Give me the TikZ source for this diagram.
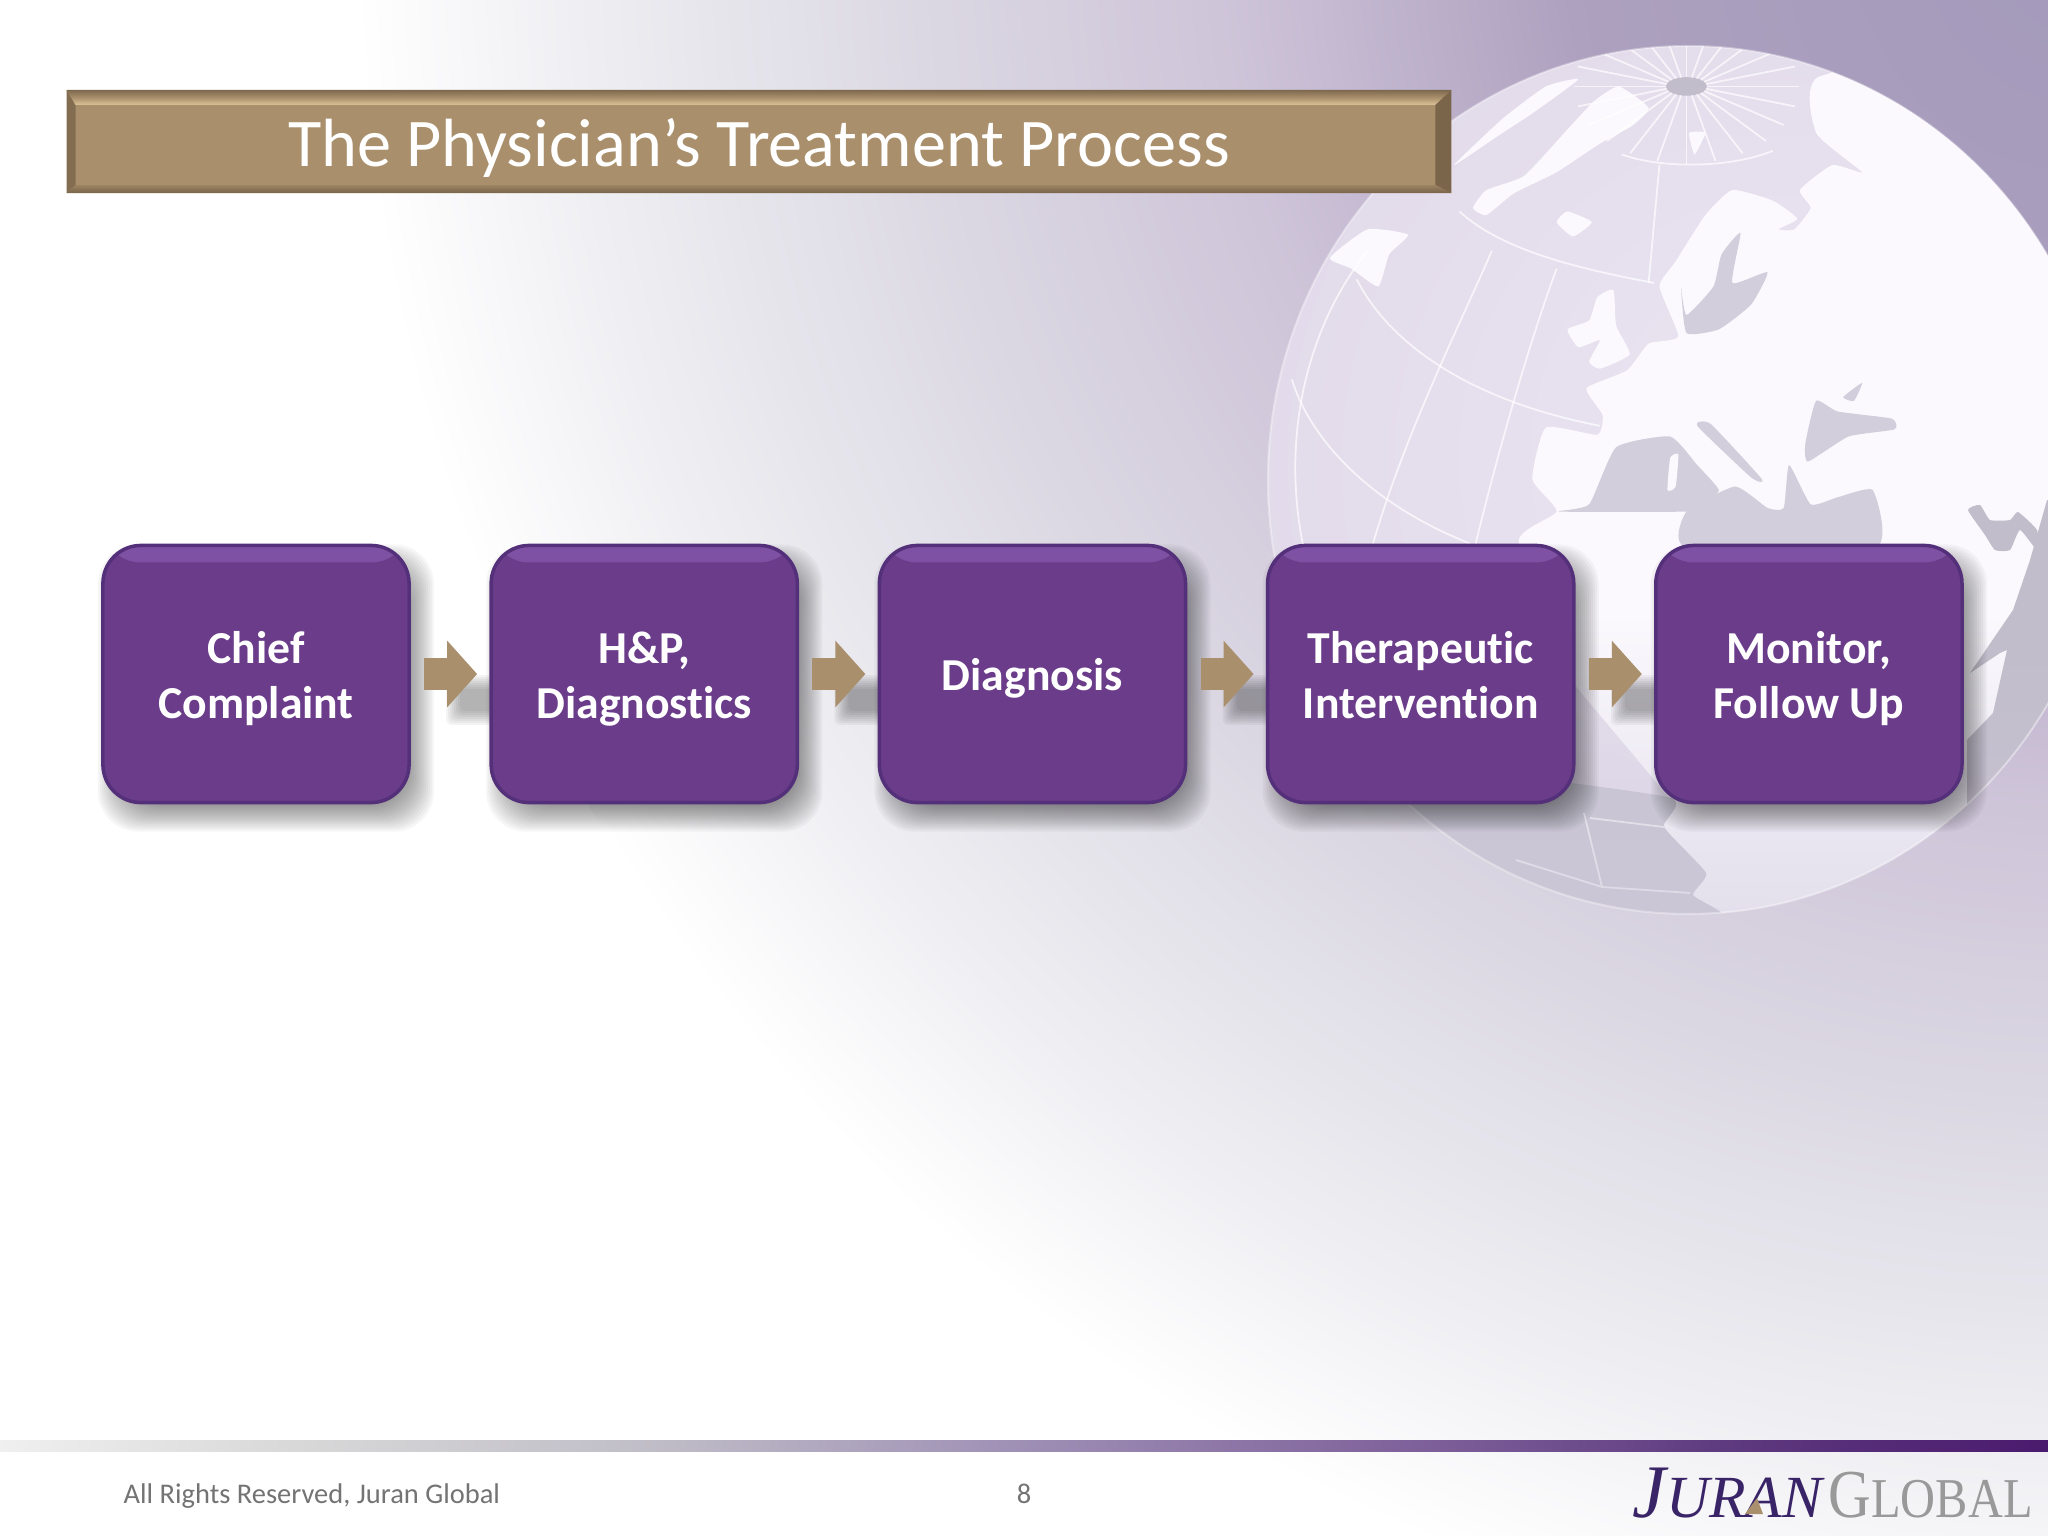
\documentclass[tikz,border=0pt]{standalone}
\usepackage{fontspec}
\setmainfont{Carlito}[Ligatures=NoCommon]
\newfontfamily\logofont{Liberation Serif}
\usetikzlibrary{positioning,arrows.meta,backgrounds,fadings}

\definecolor{boxfill}{HTML}{6A3C8A}
\definecolor{boxlight}{HTML}{8E60B6}
\definecolor{boxline}{HTML}{55307A}
\definecolor{tan}{HTML}{A98F6C}
\definecolor{tanlight}{HTML}{DCC498}
\definecolor{tandark}{HTML}{7A654A}
\definecolor{seagrey}{HTML}{D2CEDC}
\definecolor{landwhite}{HTML}{FBF9FE}
\definecolor{logopurple}{HTML}{3A2468}
\definecolor{globedim}{HTML}{CFC9DC}

\newcommand{\dropline}[1]{\raisebox{-2pt}[\height][\depth]{#1}}

\pgfdeclareradialshading{pageshade}{\pgfpoint{0bp}{0bp}}{%
	rgb(0bp)=(0.64,0.60,0.73);
	rgb(7.5bp)=(0.68,0.63,0.75);
	rgb(12.5bp)=(0.81,0.77,0.85);
	rgb(16.5bp)=(0.855,0.84,0.885);
	rgb(21bp)=(0.92,0.92,0.94);
	rgb(25bp)=(1,1,1);
	rgb(50bp)=(1,1,1)}
\pgfdeclareradialshading{globeshade}{\pgfpoint{8bp}{2bp}}{%
	rgb(0bp)=(0.92,0.90,0.95);
	rgb(28bp)=(0.89,0.86,0.92);
	rgb(36bp)=(0.84,0.82,0.89);
	rgb(50bp)=(0.84,0.82,0.89)}
\pgfdeclarehorizontalshading{barshade}{100bp}{%
	rgb(0bp)=(0.94,0.94,0.94);
	rgb(25bp)=(0.94,0.94,0.94);
	rgb(32bp)=(0.85,0.85,0.85);
	rgb(41bp)=(0.75,0.74,0.78);
	rgb(50bp)=(0.62,0.56,0.71);
	rgb(60bp)=(0.49,0.37,0.60);
	rgb(67bp)=(0.37,0.23,0.50);
	rgb(75bp)=(0.29,0.10,0.43);
	rgb(100bp)=(0.29,0.10,0.43)}
\tikzfading[name=globelow, top color=transparent!100, bottom color=transparent!20]

\begin{document}
\begin{tikzpicture}[
		x=0.01cm,y=-0.01cm,
		node distance=0.82cm,
		stepbox/.style={draw=boxline,line width=1pt,fill=boxfill,text=white,
			rounded corners=0.38cm,minimum width=3.06cm,minimum height=2.57cm,
			align=center,outer sep=0pt,
			execute at begin node={\rule{0pt}{13.1pt}},
			execute at end node={\rule[-3.5pt]{0pt}{3.5pt}},
			font=\bfseries\fontsize{13}{15.6}\selectfont,
			path picture={\shade[top color=boxlight!60!boxfill,middle color=boxlight,bottom color=boxfill]
				(path picture bounding box.north west) rectangle
				([yshift=-0.17cm]path picture bounding box.north east);}},
		flowarrow/.style={draw=tan,line width=0.32cm,shorten <=0.15cm,shorten >=0.14cm,
			-{Triangle[length=0.3cm,width=0.65cm,fill=tan]}},
		titlebar/.style={fill=tan,text=white,minimum width=13.84cm,minimum height=1.03cm,
			align=center,outer sep=0pt,inner ysep=0pt,
			execute at begin node={\rule{0pt}{19pt}},
			execute at end node={\rule[-5pt]{0pt}{5pt}},
			font=\fontsize{19.4}{22}\selectfont},
		footer/.style={text=black!55,inner sep=0pt,font=\fontsize{8.1}{10}\selectfont},
		landshape/.style={fill=landwhite},
		seashape/.style={fill=seagrey},
		gridline/.style={draw=white,line width=0.5pt,opacity=0.7}
		]
		\useasboundingbox (0,0) rectangle (2048,1536);

		\node[titlebar] (title) at (759,141.5) {The Physician’s Treatment Process};
		\fill[tandark!80!tan] (title.north west) -- ([shift={(9,15)}]title.north west)
			-- ([shift={(9,-8)}]title.south west) -- (title.south west) -- cycle;
		\shade[top color=tandark!90!tan,bottom color=tanlight,middle color=tan]
			(title.north west) -- (title.north east) -- ([shift={(-16,15)}]title.north east)
			-- ([shift={(9,15)}]title.north west) -- cycle;
		\fill[tandark] (title.north east) -- ([shift={(-16,15)}]title.north east)
			-- ([shift={(-16,-8)}]title.south east) -- (title.south east) -- cycle;
		\shade[top color=tan!70!tandark,bottom color=tandark] (title.south west) -- ([shift={(9,-8)}]title.south west)
			-- ([shift={(-16,-8)}]title.south east) -- (title.south east) -- cycle;

		\node[stepbox] (chief) at (256,674) {\dropline{Chief}\\\dropline{Complaint}};
		\node[stepbox,right=of chief] (hp) {\dropline{H\&P,}\\\dropline{Diagnostics}};
		\node[stepbox,right=of hp] (diagnosis) {Diagnosis};
		\node[stepbox,right=of diagnosis] (therapy) {\dropline{Therapeutic}\\\dropline{Intervention}};
		\node[stepbox,right=of therapy] (monitor) {\dropline{Monitor,}\\\dropline{Follow Up}};
		\path [flowarrow]
		(chief) edge (hp)
		(hp) edge (diagnosis)
		(diagnosis) edge (therapy)
		(therapy) edge (monitor);

		\node[footer,anchor=west] (rights) at (123,1496) {All Rights Reserved, Juran Global};
		\node[footer] (pagenum) at (1024,1494) {8};
		\node[anchor=base west,inner sep=0pt,text=logopurple] (juran) at (1632,1517)
			{\logofont\itshape\fontsize{21.5}{24}\selectfont J\fontsize{17}{24}\selectfont URAN};
		\node[anchor=base west,inner sep=0pt,text=black!40] (global) at (1828,1517)
			{\logofont\scalebox{0.86}[1]{\fontsize{19.5}{24}\selectfont G\fontsize{16}{24}\selectfont LOBAL}};
		\fill[tan] (1757,1498) -- (1763,1514) -- (1745,1514) -- cycle;

		\begin{pgfonlayer}{background}
		% page and globe
		\begin{scope}
			\clip (0,0) rectangle (2048,1536);
			\shade[shading=pageshade] (2090,-65) circle (1735);
			\shade[shading=barshade] (0,1440) rectangle (2048,1451);
		\end{scope}
		\begin{scope}
			\clip (1688,480) ellipse (420 and 434);
			\shade[shading=globeshade] (1688,480) ellipse (420 and 434);
			\begin{scope}[shift={(1200,40)},x=0.0054054cm,y=-0.0035714cm]
				\fill[landshape] plot[smooth cycle,tension=0.3] coordinates {
					(615,1230) (640,1085) (735,1105) (745,1050) (715,975) (790,925) (830,850)
					(885,830) (850,690) (880,620) (935,490) (985,420) (1060,450) (1105,500)
					(1070,530) (1100,530) (1130,470) (1110,420) (1170,350) (1225,370) (1140,260)
					(1150,100) (1600,100) (1600,3000) (966,2450) (912,2394) (936,2332) (858,2204)
					(866,2120) (640,1700) (590,1400) (660,1320)};
				\fill[landshape] plot[smooth cycle,tension=0.3] coordinates {(505,470) (530,420) (600,380)
					(680,250) (730,170) (775,130) (830,190) (800,240) (740,290) (660,370) (580,430) (530,490)};
				\fill[landshape] plot[smooth cycle,tension=0.3] coordinates {(240,610) (310,530) (385,545) (350,600) (330,690) (280,640)};
				\fill[landshape] plot[smooth cycle,tension=0.3] coordinates {(470,350) (560,220) (640,130) (700,110) (620,200) (550,270)};
				\fill[landshape] plot[smooth cycle,tension=0.3] coordinates {(660,510) (680,480) (725,510) (690,550)};
				\fill[landshape] plot[smooth cycle,tension=0.3] coordinates {(905,260) (935,260) (915,320)};
				\fill[landshape] plot[smooth cycle,tension=0.3] coordinates {(680,810) (720,785) (735,720) (765,700)
					(770,800) (795,880) (740,920) (720,900) (740,840) (700,860)};
				\fill[seashape] plot[smooth cycle,tension=0.3] coordinates {(665,1320) (720,1300) (770,1140) (870,1110)
					(920,1190) (960,1260) (930,1300) (900,1320)};
				\fill[seashape] plot[smooth cycle,tension=0.3] coordinates {(900,1320) (990,1250) (1050,1310) (1080,1310)
					(1090,1190) (1130,1300) (1180,1280) (1245,1260) (1250,1420) (900,1420)};
				\fill[seashape] plot[smooth cycle,tension=0.3] coordinates {(920,1080) (945,1075) (1040,1230) (1020,1225)};
				\fill[seashape] plot[smooth cycle,tension=0.3] coordinates {(1120,1130) (1140,1010) (1180,1040) (1280,1060)
					(1285,1090) (1200,1110) (1125,1180)};
				\fill[seashape] plot[smooth cycle,tension=0.3] coordinates {(1190,1000) (1225,960) (1210,1010)};
				\fill[seashape] plot[smooth cycle,tension=0.3] coordinates {(890,690) (900,820) (960,810) (1020,740)
					(1050,650) (985,680) (1000,540) (965,600) (950,690) (900,770)};
				\fill[landwhite] plot[smooth cycle,tension=0.3] coordinates {(865,1260) (870,1170) (885,1160) (880,1250)};
				\fill[seagrey!92!black] (900,130) ellipse (38 and 26);
				\foreach \a in {0,15,...,345}
					\draw[gridline] (900,130) ++(\a:38 and 26) -- ++(\a:170 and 190);
				\draw[gridline] (780,320) .. controls (850,360) and (980,360) .. (1060,310);
				\draw[gridline] (480,480) .. controls (560,590) and (700,640) .. (840,680);
				\draw[gridline] (290,670) .. controls (350,850) and (500,1010) .. (740,1080);
				\draw[gridline] (170,950) .. controls (200,1100) and (300,1290) .. (500,1410);
				\draw[gridline] (540,590) .. controls (480,800) and (380,1100) .. (320,1410);
				\draw[gridline] (660,640) .. controls (620,800) and (560,1100) .. (510,1410);
				\draw[gridline] (310,590) .. controls (200,800) and (150,1100) .. (190,1410);
				\draw[gridline] (850,350) -- (830,680);
			\end{scope}
			% lower right seas
			\fill[seagrey!92!black] plot[smooth cycle,tension=0.3] coordinates {(1968,510) (1980,505) (1990,520) (2010,520)
				(2018,512) (2037,530) (2037,550) (2020,530) (2010,550) (1995,550) (1985,535)};
			\fill[seagrey!92!black] (2047,500) -- (2030,560) -- (2013,610) -- (1970,673) -- (2000,653) -- (2007,650)
				-- (1993,713) -- (1967,740) -- (1967,820) -- (2060,820) -- (2060,500) -- cycle;
			\fill[seagrey!95!black] plot[smooth cycle,tension=0.3] coordinates {(1400,770) (1668,797) (1664,827) (1706,873) (1693,895)
				(1722,915) (1640,930) (1400,900)};
			\draw[gridline] (1584,813) -- (1602,887) (1590,818) -- (1664,827) (1516,860) -- (1602,887) -- (1690,893);
			\fill[globedim,path fading=globelow,opacity=0.7] (1200,620) rectangle (2100,930);
		\end{scope}
		\draw[white,line width=0.6pt,opacity=0.35] (1688,480) ellipse (420 and 434);
		% shadows
		\foreach \b in {chief,hp,diagnosis,therapy,monitor}{
			\foreach \k in {0,...,15}{
				\pgfmathsetmacro{\g}{15-2*\k}
				\fill[black,opacity=0.035,rounded corners=0.4cm]
					([shift={(10-\g,14+\g)}]\b.south west) rectangle ([shift={(10+\g,14-\g)}]\b.north east);
			}
		}
		\foreach \b in {chief,hp,diagnosis,therapy}{
			\foreach \k in {0,...,7}{
				\pgfmathsetmacro{\g}{8-2*\k}
				\fill[black,opacity=0.045,rounded corners=0.05cm]
					([shift={(45-\g,9-\g)}]\b.east) rectangle ([shift={(93+\g,43+\g)}]\b.east);
			}
		}
		\end{pgfonlayer}
	\end{tikzpicture}
\end{document}
